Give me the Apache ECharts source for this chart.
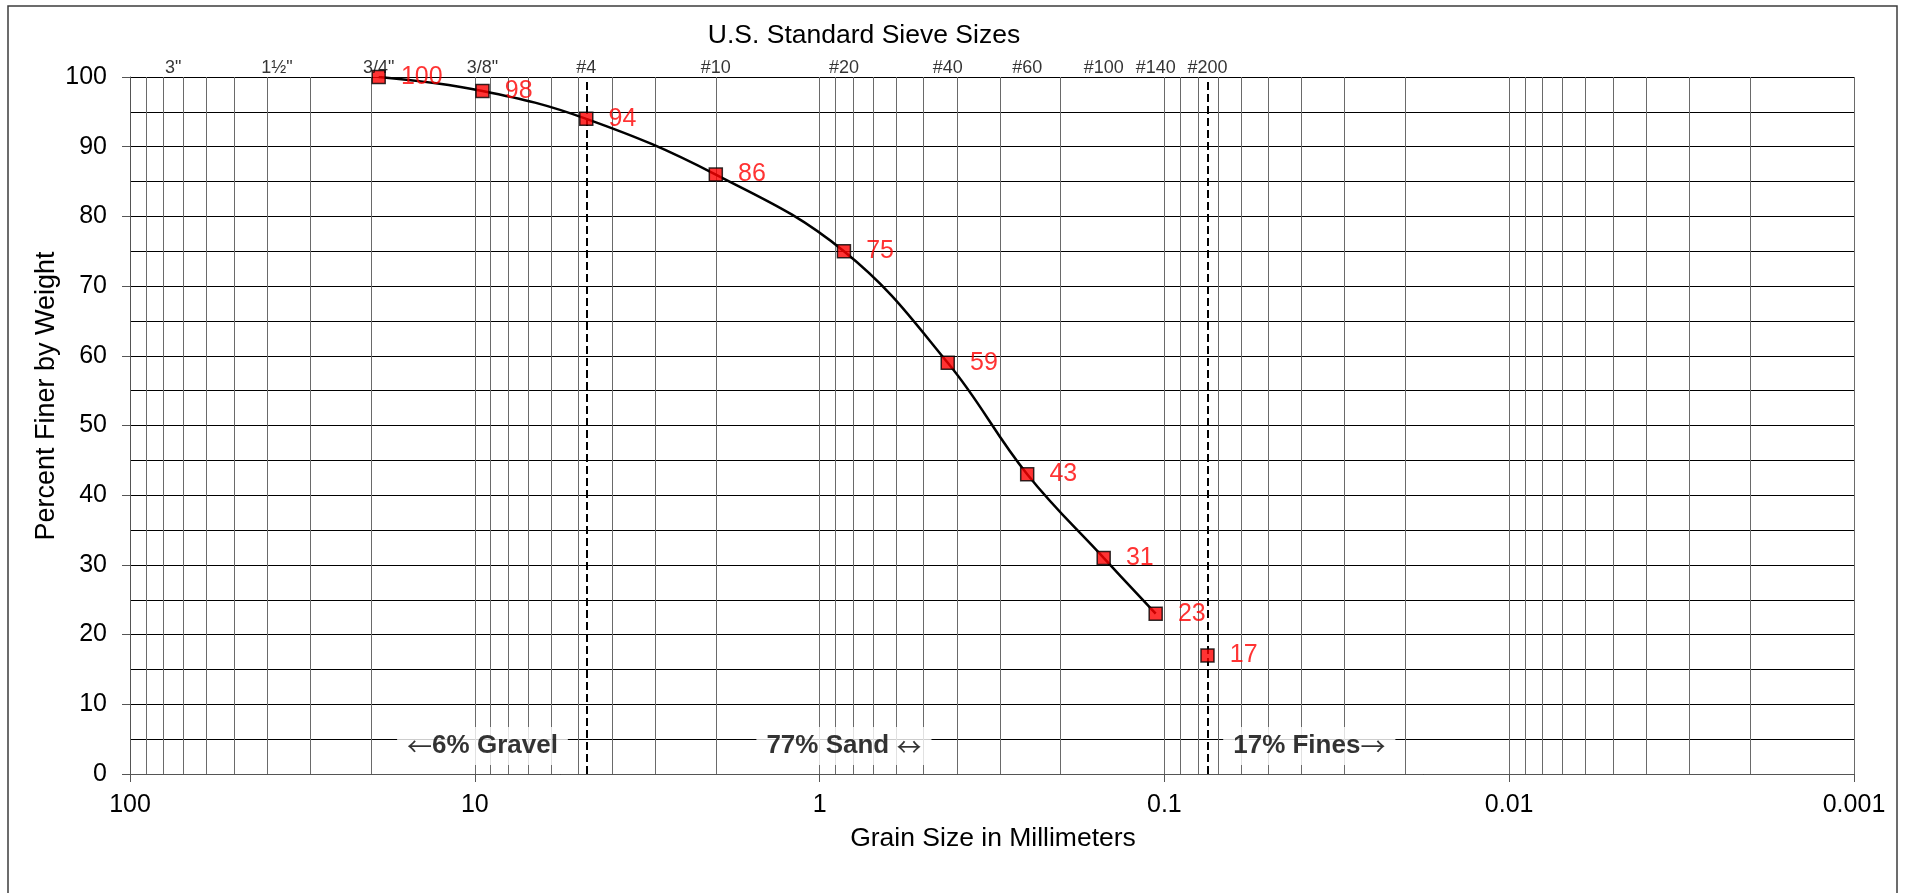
<!DOCTYPE html>
<html>
<head>
<meta charset="utf-8">
<script src="https://cdn.jsdelivr.net/npm/echarts@6/dist/echarts.min.js"></script>
<style>
  html, body { margin: 0; padding: 0; background: #ffffff; }
  #chart { width: 1911px; height: 893px; }
</style>
</head>
<body>
<div id="chart"></div>
<script>
// Grain size distribution (sieve analysis)
const FONT = '"Liberation Sans", Arial, Helvetica, sans-serif';
const ARROW_FONT = '"Noto Sans CJK SC", "DejaVu Sans", sans-serif';

// Sieve sizes shown along the top edge
const sieveNames = ['3"', '1½"', '3/4"', '3/8"', '#4', '#10', '#20', '#40', '#60', '#100', '#140', '#200'];
const sieveSizesMm = [75, 37.5, 19, 9.5, 4.75, 2.0, 0.85, 0.425, 0.25, 0.15, 0.106, 0.075];

// Test results: grain size (mm) and percent finer by weight
const grainSizeMm = [19, 9.5, 4.75, 2.0, 0.85, 0.425, 0.25, 0.15, 0.106, 0.075];
const percentFiner = [100, 98, 94, 86, 75, 59, 43, 31, 23, 17];
// The smoothed curve runs through the sieve results down to #140
const curveSizeMm = [19, 9.5, 4.75, 2.0, 0.85, 0.425, 0.25, 0.15, 0.106];
const curvePercent = [100, 98, 94, 86, 75, 59, 43, 31, 23];

// Gravel / sand / fines boundaries (#4 and #200 sieves)
const boundarySizesMm = [4.75, 0.075];

// Soil fraction annotations
const fractionLabels = ['\u2190' + '6% Gravel', '77% Sand \u2194', '17% Fines\u2192'];
const fractionSizesMm = [9.5, 0.85, 0.038];
const fractionPercent = [4, 4, 4];

// Axis ticks
const xTickValues = [100, 10, 1, 0.1, 0.01, 0.001];
const xTickLabels = ['100', '10', '1', '0.1', '0.01', '0.001'];
const yTickLabels = ['0', '10', '20', '30', '40', '50', '60', '70', '80', '90', '100'];

// Log-cycle minor grid: 2..9 within every decade
const minorMultipliers = [2, 3, 4, 5, 6, 7, 8, 9];
const decadeStarts = [0.001, 0.01, 0.1, 1, 10];
const minorGridMm = [];
decadeStarts.forEach(function (d) {
  minorMultipliers.forEach(function (m) { minorGridMm.push(+(m * d).toPrecision(3)); });
});

const pointData = grainSizeMm.map(function (x, i) { return [x, percentFiner[i]]; });
const curveData = curveSizeMm.map(function (x, i) { return [x, curvePercent[i]]; });
const sieveData = sieveSizesMm.map(function (x, i) { return { value: [x, 100], name: sieveNames[i] }; });
const fractionData = fractionSizesMm.map(function (x, i) { return { value: [x, fractionPercent[i]], name: fractionLabels[i] }; });

const GRID_GREY = '#6a6a6a';
const gridLines = minorGridMm.map(function (v) {
  return { xAxis: v, lineStyle: { color: GRID_GREY, width: 1, type: 'solid' } };
}).concat(boundarySizesMm.map(function (v) {
  return { xAxis: v, lineStyle: { color: '#000000', width: 2, type: [8, 4] } };
}));

const chart = echarts.init(document.getElementById('chart'), null, { renderer: 'canvas' });

chart.setOption({
  animation: false,
  backgroundColor: '#ffffff',
  textStyle: { fontFamily: FONT },
  grid: { left: 130, right: 57, top: 77, bottom: 119, containLabel: false },
  xAxis: {
    type: 'log',
    logBase: 10,
    min: 0.001,
    max: 100,
    inverse: true,
    axisLine: { show: true, lineStyle: { color: '#555555', width: 1 } },
    axisTick: { show: true, inside: false, length: 8, lineStyle: { color: '#555555', width: 1 } },
    axisLabel: {
      show: true, margin: 19, fontSize: 25, color: '#000000', fontFamily: FONT,
      showMinLabel: true, showMaxLabel: true,
      formatter: function (v) {
        for (let i = 0; i < xTickValues.length; i++) {
          if (Math.abs(Math.log10(v) - Math.log10(xTickValues[i])) < 1e-6) return xTickLabels[i];
        }
        return '';
      }
    },
    splitLine: { show: true, lineStyle: { color: GRID_GREY, width: 1 } }
  },
  yAxis: {
    type: 'value',
    min: 0,
    max: 100,
    interval: 10,
    axisLine: { show: true, lineStyle: { color: '#555555', width: 1 } },
    axisTick: { show: true, inside: false, length: 8, lineStyle: { color: '#555555', width: 1 } },
    axisLabel: {
      margin: 23, fontSize: 25, color: '#000000', fontFamily: FONT,
      formatter: function (v) { return yTickLabels[Math.round(v / 10)]; }
    },
    splitLine: { show: true, lineStyle: { color: '#000000', width: 1 } },
    minorTick: { show: false, splitNumber: 2 },
    minorSplitLine: { show: true, lineStyle: { color: '#000000', width: 1 } }
  },
  graphic: [
    {
      type: 'rect', silent: true, z: 0,
      shape: { x: 8, y: 6, width: 1889, height: 910 },
      style: { fill: 'none', stroke: '#3c3c3c', lineWidth: 1.5 }
    },
    {
      type: 'text', silent: true, z: 10,
      x: 864, y: 36,
      style: { text: 'U.S. Standard Sieve Sizes', font: '26.5px ' + FONT, fill: '#000000', textAlign: 'center', textVerticalAlign: 'middle' }
    },
    {
      type: 'text', silent: true, z: 10,
      x: 993, y: 839,
      style: { text: 'Grain Size in Millimeters', font: '26.5px ' + FONT, fill: '#000000', textAlign: 'center', textVerticalAlign: 'middle' }
    },
    {
      type: 'text', silent: true, z: 10,
      x: 47, y: 396, rotation: Math.PI / 2,
      style: { text: 'Percent Finer by Weight', font: '27px ' + FONT, fill: '#000000', textAlign: 'center', textVerticalAlign: 'middle' }
    }
  ],
  series: [
    {
      // sieve names along the top edge, plus the log-cycle grid and boundary lines
      name: 'sieves',
      type: 'scatter',
      z: 6,
      silent: true,
      symbolSize: 0.1,
      itemStyle: { color: 'rgba(0,0,0,0)' },
      data: sieveData,
      label: {
        show: true, position: 'top', distance: 0,
        fontSize: 18, color: '#000000', fontFamily: FONT,
        formatter: function (p) { return p.name; }
      },
      markLine: {
        silent: true,
        z: 1,
        precision: 10,
        symbol: ['none', 'none'],
        label: { show: false },
        emphasis: { disabled: true },
        data: gridLines
      }
    },
    {
      name: 'curve',
      type: 'line',
      z: 3,
      silent: true,
      smooth: 0.4,
      showSymbol: false,
      symbol: 'none',
      lineStyle: { color: '#000000', width: 2.5 },
      data: curveData
    },
    {
      name: 'percent finer',
      type: 'scatter',
      z: 4,
      silent: true,
      symbol: 'rect',
      symbolSize: 13,
      itemStyle: { color: '#ff0000', borderColor: '#000000', borderWidth: 1.5 },
      label: {
        show: true, position: 'right', distance: 15,
        fontSize: 25, color: '#ff0000', fontFamily: FONT,
        formatter: function (p) { return String(p.value[1]); }
      },
      data: pointData
    },
    {
      name: 'fractions',
      type: 'scatter',
      z: 5,
      silent: true,
      symbolSize: 0.1,
      itemStyle: { color: 'rgba(0,0,0,0)' },
      label: {
        show: true, position: 'inside',
        fontSize: 26, fontWeight: 'bold', color: '#000000', fontFamily: FONT,
        backgroundColor: '#ffffff', padding: [6, 10],
        formatter: function (p) {
          return p.name.replace(/[\u2190-\u2195]/g, function (m) { return '{a|' + m + '}'; });
        },
        rich: {
          a: { fontFamily: ARROW_FONT, fontSize: 25, fontWeight: 'normal', color: '#000000' }
        }
      },
      data: fractionData
    }
  ]
});
</script>
</body>
</html>
